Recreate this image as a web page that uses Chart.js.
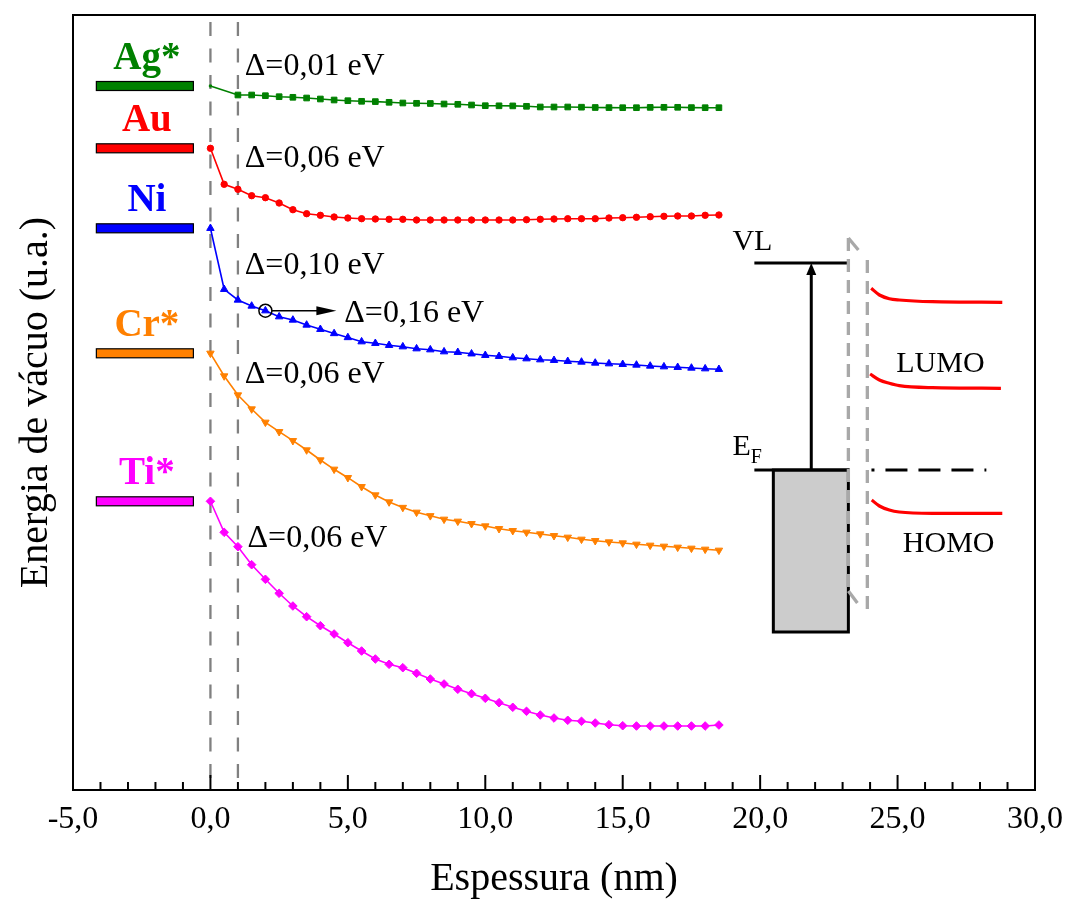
<!DOCTYPE html>
<html lang="pt-BR">
<head>
  <meta charset="UTF-8">
  <title>Energia de vácuo x espessura</title>
  <script src="https://cdn.jsdelivr.net/npm/chart.js"></script>
  <style>
    body {
      margin: 0;
      background: white;
    }

    #grafico {
      display: block;
    }
  </style>
</head>
<body>

  <canvas id="grafico" width="1065" height="899"></canvas>

  <script>
    // Espessura depositada (nm)
    const espessura = [0, 0.5, 1, 1.5, 2, 2.5, 3, 3.5, 4, 4.5, 5, 5.5, 6, 6.5, 7, 7.5, 8, 8.5, 9, 9.5,
      10, 10.5, 11, 11.5, 12, 12.5, 13, 13.5, 14, 14.5, 15, 15.5, 16, 16.5, 17, 17.5, 18, 18.5];
    // Ag não tem a medida de 0,5 nm
    const espessuraAg = [0, 1, 1.5, 2, 2.5, 3, 3.5, 4, 4.5, 5, 5.5, 6, 6.5, 7, 7.5, 8, 8.5, 9, 9.5,
      10, 10.5, 11, 11.5, 12, 12.5, 13, 13.5, 14, 14.5, 15, 15.5, 16, 16.5, 17, 17.5, 18, 18.5];

    // Nível de vácuo (u.a.) de cada metal
    const vacuoAg = [7.04, 6.95, 6.95, 6.943, 6.933, 6.927, 6.92, 6.91, 6.90, 6.893, 6.887, 6.884, 6.877,
      6.87, 6.867, 6.865, 6.86, 6.857, 6.85, 6.843, 6.842, 6.841, 6.837, 6.83, 6.83, 6.83, 6.828,
      6.825, 6.824, 6.823, 6.823, 6.826, 6.827, 6.827, 6.824, 6.823, 6.823];
    const vacuoAu = [6.417, 6.057, 6.007, 5.943, 5.923, 5.87, 5.803, 5.763, 5.747, 5.73, 5.72, 5.713, 5.71,
      5.707, 5.707, 5.70, 5.70, 5.70, 5.70, 5.70, 5.70, 5.70, 5.70, 5.703, 5.707, 5.71, 5.713, 5.713,
      5.713, 5.72, 5.723, 5.727, 5.733, 5.737, 5.74, 5.74, 5.747, 5.75];
    const vacuoNi = [5.617, 5.007, 4.90, 4.84, 4.793, 4.733, 4.70, 4.65, 4.607, 4.565, 4.525, 4.483, 4.467,
      4.447, 4.433, 4.413, 4.403, 4.383, 4.377, 4.362, 4.347, 4.337, 4.323, 4.313, 4.303, 4.297, 4.287,
      4.28, 4.27, 4.263, 4.257, 4.25, 4.24, 4.233, 4.227, 4.22, 4.213, 4.207];
    const vacuoCr = [4.367, 4.14, 3.95, 3.81, 3.677, 3.583, 3.493, 3.40, 3.30, 3.207, 3.123, 3.033, 2.95,
      2.88, 2.825, 2.777, 2.742, 2.707, 2.687, 2.663, 2.64, 2.613, 2.593, 2.577, 2.56, 2.543, 2.527,
      2.507, 2.493, 2.48, 2.47, 2.457, 2.447, 2.437, 2.427, 2.417, 2.407, 2.397];
    const vacuoTi = [2.887, 2.577, 2.433, 2.253, 2.107, 1.967, 1.84, 1.733, 1.643, 1.56, 1.473, 1.39, 1.31,
      1.257, 1.223, 1.167, 1.11, 1.06, 1.007, 0.963, 0.917, 0.873, 0.827, 0.787, 0.75, 0.72, 0.697,
      0.687, 0.67, 0.653, 0.643, 0.64, 0.64, 0.64, 0.64, 0.64, 0.64, 0.65];

    const metais = ['Ag*', 'Au', 'Ni', 'Cr*', 'Ti*'];
    const deltas = ['Δ=0,01 eV', 'Δ=0,06 eV', 'Δ=0,10 eV', 'Δ=0,06 eV', 'Δ=0,06 eV'];
    const deltaDestaque = 'Δ=0,16 eV';
    const interfaces = [0, 1];
    const rotulosX = [-5, 0, 5, 10, 15, 20, 25, 30];

    // Curvas de LUMO/HOMO do esquema (x em nm, y em u.a.)
    const curvaLumoSup = [[24.04, 5.017], [24.34, 4.95], [24.70, 4.913], [25.06, 4.90], [26.26, 4.883], [28.81, 4.877]];
    const curvaLumoInf = [[24.0, 4.16], [24.34, 4.10], [24.70, 4.067], [25.06, 4.043], [26.26, 4.023], [28.76, 4.017]];
    const curvaHomo = [[24.06, 2.90], [24.34, 2.84], [24.70, 2.80], [25.06, 2.78], [26.26, 2.767], [28.81, 2.767]];

    // estilos
    const fonte = "'Liberation Serif', 'Times New Roman', serif";
    const cores = ['#008000', '#ff0000', '#0000ff', '#ff8000', '#ff00ff'];
    const marcadores = ['rect', 'circle', 'triangle', 'triangle', 'rectRot'];
    const rotacoes = [0, 0, 0, 180, 0];
    const raios = [4, 3.2, 4.3, 4.3, 4.3];
    const posDeltas = [[1.25, 7.15], [1.25, 6.23], [1.25, 5.16], [1.25, 4.07], [1.35, 2.43]];
    const posDestaque = [4.87, 4.68];
    const barra = { x0: -4.15, x1: -0.62, altura: 9 };

    const esquema = {
      vl: { x0: 19.79, x1: 23.17, y: 5.27 },
      ef: { x0: 19.79, x1: 23.24, y: 3.20 },
      caixa: { x0: 20.48, x1: 23.21, y0: 1.58 },
      seta: 21.86,
      efTracejado: { x0: 24.05, x1: 28.23 },
      quebra1: { x: 23.21, y0: 1.99, y1: 5.52 },
      quebra2: { x: 23.90, y0: 1.75, y1: 5.30 }
    };

    const xs = [espessuraAg, espessura, espessura, espessura, espessura];
    const ys = [vacuoAg, vacuoAu, vacuoNi, vacuoCr, vacuoTi];

    const datasets = ys.map((serie, k) => ({
      label: metais[k],
      data: serie.map((v, i) => ({ x: xs[k][i], y: v })),
      borderColor: cores[k],
      backgroundColor: cores[k],
      borderWidth: 1.6,
      pointStyle: marcadores[k],
      pointRotation: rotacoes[k],
      pointRadius: serie.map((v, i) => (k === 0 && i === 0) ? 1.5 : raios[k]),
      pointBorderWidth: 1,
      tension: 0
    }));

    [curvaLumoSup, curvaLumoInf, curvaHomo].forEach(c => {
      datasets.push({
        data: c.map(p => ({ x: p[0], y: p[1] })),
        borderColor: '#ff0000',
        borderWidth: 3.2,
        pointRadius: 0,
        cubicInterpolationMode: 'monotone'
      });
    });

    function linha(ctx, x0, y0, x1, y1) {
      ctx.beginPath();
      ctx.moveTo(x0, y0);
      ctx.lineTo(x1, y1);
      ctx.stroke();
    }

    // Desenhos que não são séries: barras dos metais, esquema de bandas, textos
    const extras = {
      id: 'extras',
      beforeDatasetsDraw(chart) {
        const { ctx, chartArea: a, scales: { x, y } } = chart;
        ctx.save();

        // interfaces em 0 e 1 nm
        ctx.strokeStyle = '#808080';
        ctx.lineWidth = 2.3;
        ctx.setLineDash([14, 12.5]);
        interfaces.forEach(v => {
          const px = x.getPixelForValue(v);
          linha(ctx, px, a.top + 7, px, a.bottom);
        });
        ctx.setLineDash([]);

        // nível de Fermi de cada metal
        const bx0 = x.getPixelForValue(barra.x0), bx1 = x.getPixelForValue(barra.x1);
        ys.forEach((serie, k) => {
          const py = y.getPixelForValue(serie[0]);
          ctx.fillStyle = cores[k];
          ctx.fillRect(bx0, py - barra.altura / 2, bx1 - bx0, barra.altura);
          ctx.strokeStyle = '#000';
          ctx.lineWidth = 1.2;
          ctx.strokeRect(bx0, py - barra.altura / 2, bx1 - bx0, barra.altura);
          ctx.font = 'bold 39px ' + fonte;
          ctx.textAlign = 'center';
          ctx.fillText(metais[k], (bx0 + bx1) / 2 + 2, py - 17);
        });

        // metal (caixa cinza)
        const c = esquema.caixa;
        const cx0 = x.getPixelForValue(c.x0), cx1 = x.getPixelForValue(c.x1);
        const cy0 = y.getPixelForValue(c.y0), cy1 = y.getPixelForValue(esquema.ef.y);
        ctx.fillStyle = '#cccccc';
        ctx.fillRect(cx0, cy1, cx1 - cx0, cy0 - cy1);
        ctx.strokeStyle = '#000';
        ctx.lineWidth = 3;
        ctx.strokeRect(cx0, cy1, cx1 - cx0, cy0 - cy1);
        ctx.restore();
      },

      afterDatasetsDraw(chart) {
        const { ctx, chartArea: a, scales: { x, y } } = chart;
        ctx.save();
        ctx.fillStyle = '#000';
        ctx.strokeStyle = '#000';

        // moldura
        ctx.lineWidth = 2;
        ctx.strokeRect(a.left, a.top, a.right - a.left, a.bottom - a.top);

        // marcas do eixo x, para dentro
        for (let v = -5; v <= 30; v++) {
          const px = x.getPixelForValue(v);
          const tam = v % 5 === 0 ? 15 : 8;
          linha(ctx, px, a.bottom, px, a.bottom - tam);
        }

        // textos de Δ
        ctx.font = '32px ' + fonte;
        ctx.textAlign = 'left';
        deltas.forEach((t, k) => {
          ctx.fillText(t, x.getPixelForValue(posDeltas[k][0]), y.getPixelForValue(posDeltas[k][1]));
        });
        ctx.fillText(deltaDestaque, x.getPixelForValue(posDestaque[0]), y.getPixelForValue(posDestaque[1]));

        // ponto destacado do Ni e seta
        const i2 = espessura.indexOf(2);
        const ox = x.getPixelForValue(2), oy = y.getPixelForValue(vacuoNi[i2]);
        ctx.lineWidth = 1.5;
        ctx.beginPath();
        ctx.arc(ox, oy, 6.5, 0, Math.PI * 2);
        ctx.stroke();
        const ponta = ox + 71;
        linha(ctx, ox + 6.5, oy, ponta - 18, oy);
        ctx.beginPath();
        ctx.moveTo(ponta, oy);
        ctx.lineTo(ponta - 20, oy - 4.5);
        ctx.lineTo(ponta - 20, oy + 4.5);
        ctx.closePath();
        ctx.fill();

        // esquema de bandas
        const e = esquema;
        const vlY = y.getPixelForValue(e.vl.y), efY = y.getPixelForValue(e.ef.y);
        ctx.lineWidth = 3;
        linha(ctx, x.getPixelForValue(e.vl.x0), vlY, x.getPixelForValue(e.vl.x1), vlY);
        linha(ctx, x.getPixelForValue(e.ef.x0), efY, x.getPixelForValue(e.ef.x1), efY);
        const sx = x.getPixelForValue(e.seta);
        linha(ctx, sx, efY, sx, vlY + 10);
        ctx.beginPath();
        ctx.moveTo(sx, vlY);
        ctx.lineTo(sx - 5, vlY + 12);
        ctx.lineTo(sx + 5, vlY + 12);
        ctx.closePath();
        ctx.fill();

        ctx.setLineDash([22, 11]);
        ctx.lineDashOffset = 19;
        linha(ctx, x.getPixelForValue(e.efTracejado.x0), efY, x.getPixelForValue(e.efTracejado.x1), efY);

        // quebras tracejadas cinzas
        ctx.strokeStyle = '#a8a8a8';
        ctx.lineWidth = 3.3;
        ctx.setLineDash([13, 8]);
        ctx.lineDashOffset = 0;
        const q1 = x.getPixelForValue(e.quebra1.x);
        const q1a = y.getPixelForValue(e.quebra1.y1), q1b = y.getPixelForValue(e.quebra1.y0);
        linha(ctx, q1, q1a, q1, q1b);
        const q2 = x.getPixelForValue(e.quebra2.x);
        linha(ctx, q2, y.getPixelForValue(e.quebra2.y1), q2, y.getPixelForValue(e.quebra2.y0));
        ctx.setLineDash([]);
        linha(ctx, q1, q1a, q1 + 10, q1a + 12);
        linha(ctx, q1, q1b, q1 + 9, q1b + 12);

        // rótulos do esquema
        ctx.fillStyle = '#000';
        ctx.font = '30px ' + fonte;
        ctx.textAlign = 'left';
        ctx.fillText('VL', x.getPixelForValue(18.99), y.getPixelForValue(5.40));
        const exE = x.getPixelForValue(18.99), eyE = y.getPixelForValue(3.35);
        ctx.fillText('E', exE, eyE);
        const larguraE = ctx.measureText('E').width;
        ctx.font = '20px ' + fonte;
        ctx.fillText('F', exE + larguraE, eyE + 8);
        ctx.font = '30px ' + fonte;
        ctx.textAlign = 'center';
        ctx.fillText('LUMO', x.getPixelForValue(26.56), y.getPixelForValue(4.18));
        ctx.fillText('HOMO', x.getPixelForValue(26.86), y.getPixelForValue(2.38));

        ctx.restore();
      }
    };

    new Chart(document.getElementById('grafico'), {
      type: 'line',
      data: { datasets: datasets },
      options: {
        responsive: false,
        animation: false,
        devicePixelRatio: 1,
        layout: { padding: { top: 15, right: 30, left: 0, bottom: 0 } },
        plugins: {
          legend: { display: false },
          tooltip: { enabled: false }
        },
        scales: {
          x: {
            type: 'linear',
            min: -5,
            max: 30,
            afterBuildTicks: s => { s.ticks = rotulosX.map(v => ({ value: v })); },
            grid: { display: false, drawTicks: false },
            border: { display: false },
            ticks: {
              padding: 10,
              maxRotation: 0,
              color: '#000',
              font: { family: fonte, size: 32 },
              callback: v => v.toFixed(1).replace('.', ',')
            },
            title: {
              display: true,
              text: 'Espessura (nm)',
              color: '#000',
              font: { family: fonte, size: 40, lineHeight: 1 },
              padding: 0
            },
            // a largura dos rótulos das pontas não deve encolher a área do gráfico
            afterFit: s => { s.height = 109; s.paddingLeft = 0; s.paddingRight = 0; }
          },
          y: {
            type: 'linear',
            min: 0,
            max: 7.75,
            grid: { display: false, drawTicks: false },
            border: { display: false },
            ticks: { display: false },
            title: {
              display: true,
              text: 'Energia de vácuo (u.a.)',
              color: '#000',
              font: { family: fonte, size: 40, lineHeight: 1 },
              padding: { top: 16, bottom: 0 }
            },
            afterFit: s => { s.width = 73; }
          }
        }
      },
      plugins: [extras]
    });
  </script>

</body>
</html>
